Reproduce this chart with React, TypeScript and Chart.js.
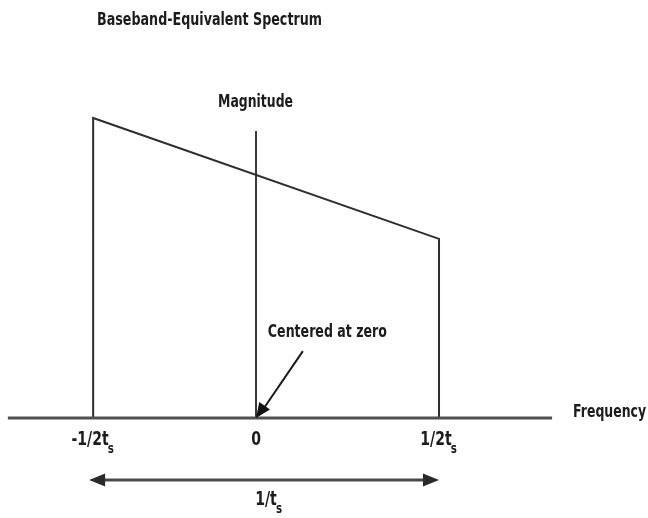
import React, { useEffect, useRef } from "react";
import { Chart, registerables } from "chart.js";

Chart.register(...registerables);

// ---- data ----
const titleText = "Baseband-Equivalent Spectrum";
const yAxisLabel = "Magnitude";
const xAxisLabel = "Frequency";
const calloutText = "Centered at zero";

// frequency positions of the band edges (left edge, right edge)
const bandEdgesX = [-0.445, 0.5];
// magnitude at those edges
const bandEdgesMag = [1.0, 0.597];
// top of the magnitude axis
const magAxisTop = 0.957;
// extent of the frequency axis line
const freqAxisExtent = [-0.678, 0.809];
// tick positions and labels [main, subscript]
const tickValues = [-0.445, 0, 0.5];
const tickLabels: [string, string][] = [
  ["-1/2t", "s"],
  ["0", ""],
  ["1/2t", "s"],
];
// span arrow (1/t_s)
const spanArrowX = [-0.456, 0.5];
const spanArrowY = -0.207;
const spanLabel: [string, string] = ["1/t", "s"];
// callout arrow from label to zero
const calloutFrom = { x: 0.128, y: 0.223 };
const calloutTo = { x: 0.0, y: 0.0 };

const FONT = '"DejaVu Sans Condensed", "DejaVu Sans", sans-serif';

function drawArrowHead(ctx: CanvasRenderingContext2D, fx: number, fy: number, tx: number, ty: number, len: number, half: number, color: string) {
  const a = Math.atan2(ty - fy, tx - fx);
  ctx.save();
  ctx.fillStyle = color;
  ctx.beginPath();
  ctx.moveTo(tx, ty);
  ctx.lineTo(tx - len * Math.cos(a) + half * Math.sin(a), ty - len * Math.sin(a) - half * Math.cos(a));
  ctx.lineTo(tx - len * Math.cos(a) - half * Math.sin(a), ty - len * Math.sin(a) + half * Math.cos(a));
  ctx.closePath();
  ctx.fill();
  ctx.restore();
}

// draws text squeezed horizontally to a given width (condensed look), left aligned at x
function fitText(ctx: CanvasRenderingContext2D, text: string, x: number, y: number, width: number, size: number) {
  ctx.save();
  ctx.font = `bold ${size}px ${FONT}`;
  ctx.textAlign = "left";
  ctx.textBaseline = "middle";
  const w = ctx.measureText(text).width;
  ctx.translate(x, y);
  ctx.scale(width / w, 1);
  ctx.fillText(text, 0, 0);
  ctx.restore();
}

function drawSubLabel(ctx: CanvasRenderingContext2D, main: string, sub: string, cx: number, cy: number, size: number, squeeze: number) {
  ctx.save();
  ctx.textBaseline = "middle";
  ctx.textAlign = "left";
  ctx.font = `bold ${size}px ${FONT}`;
  const wMain = ctx.measureText(main).width;
  ctx.font = `bold ${Math.round(size * 0.72)}px ${FONT}`;
  const wSub = sub ? ctx.measureText(sub).width : 0;
  const total = (wMain + wSub) * squeeze;
  ctx.translate(cx - total / 2, cy);
  ctx.scale(squeeze, 1);
  ctx.font = `bold ${size}px ${FONT}`;
  ctx.fillText(main, 0, 0);
  if (sub) {
    ctx.font = `bold ${Math.round(size * 0.72)}px ${FONT}`;
    ctx.fillText(sub, wMain - 1, size * 0.5);
  }
  ctx.restore();
}

const annotations = {
  id: "diagramText",
  afterDatasetsDraw(chart: any) {
    const { ctx, scales } = chart;
    const xs = scales.x;
    const ys = scales.y;
    const px = (v: number) => xs.getPixelForValue(v);
    const py = (v: number) => ys.getPixelForValue(v);
    const ink = "#1c1c1c";

    // arrowheads of span arrow
    const sy = py(spanArrowY);
    drawArrowHead(ctx, px(spanArrowX[1]), sy, px(spanArrowX[0]), sy, 16, 6.5, "#2a2a2a");
    drawArrowHead(ctx, px(spanArrowX[0]), sy, px(spanArrowX[1]), sy, 16, 6.5, "#2a2a2a");
    // arrowhead of callout
    drawArrowHead(ctx, px(calloutFrom.x), py(calloutFrom.y), px(calloutTo.x), py(calloutTo.y), 15, 6.5, "#111");

    ctx.save();
    ctx.fillStyle = ink;
    // title
    fitText(ctx, titleText, 97, 21, 225, 17);
    // magnitude label
    fitText(ctx, yAxisLabel, px(0) - 38, py(magAxisTop) - 28, 75, 17);
    // frequency label
    fitText(ctx, xAxisLabel, px(freqAxisExtent[1]) + 21, py(0) - 5, 73, 17);
    // callout
    fitText(ctx, calloutText, px(calloutFrom.x) - 35, py(calloutFrom.y) - 19, 119, 17);

    // tick labels
    tickValues.forEach((v, i) => {
      drawSubLabel(ctx, tickLabels[i][0], tickLabels[i][1], px(v), py(0) + 22, 19, 0.82);
    });
    // span label
    drawSubLabel(ctx, spanLabel[0], spanLabel[1], (px(spanArrowX[0]) + px(spanArrowX[1])) / 2 + 5, sy + 20, 19, 0.82);
    ctx.restore();
  },
};

export default function App() {
  const ref = useRef<HTMLCanvasElement>(null);
  useEffect(() => {
    if (!ref.current) return;
    const lineDs = (data: { x: number; y: number }[], color: string, width: number) => ({
      data,
      borderColor: color,
      borderWidth: width,
      pointRadius: 0,
      showLine: true,
      fill: false,
      tension: 0,
      borderJoinStyle: "miter" as const,
    });
    const chart = new Chart(ref.current, {
      type: "scatter",
      data: {
        datasets: [
          lineDs(
            [
              { x: freqAxisExtent[0], y: 0 },
              { x: freqAxisExtent[1], y: 0 },
            ],
            "#505050",
            3
          ),
          lineDs(
            [
              { x: bandEdgesX[0], y: 0 },
              { x: bandEdgesX[0], y: bandEdgesMag[0] },
              { x: bandEdgesX[1], y: bandEdgesMag[1] },
              { x: bandEdgesX[1], y: 0 },
            ],
            "#2e2e2e",
            2
          ),
          lineDs(
            [
              { x: 0, y: 0 },
              { x: 0, y: magAxisTop },
            ],
            "#3a3a3a",
            2
          ),
          lineDs(
            [
              { x: spanArrowX[0] + 0.03, y: spanArrowY },
              { x: spanArrowX[1] - 0.03, y: spanArrowY },
            ],
            "#4a4a4a",
            3
          ),
          lineDs(
            [
              { x: calloutFrom.x, y: calloutFrom.y },
              { x: calloutTo.x + 0.02, y: calloutTo.y + 0.03 },
            ],
            "#1a1a1a",
            2
          ),
        ],
      },
      options: {
        animation: false,
        responsive: false,
        layout: { padding: 0 },
        plugins: { legend: { display: false }, tooltip: { enabled: false }, title: { display: false } },
        scales: {
          x: { type: "linear", min: -0.6995, max: 1.071, display: false },
          y: { type: "linear", min: -0.3333, max: 1.3933, display: false },
        },
      },
      plugins: [annotations],
    });
    return () => chart.destroy();
  }, []);
  return (
    <div style={{ position: "fixed", left: 0, top: 0, width: 648, height: 518, background: "#fff" }}>
      <canvas ref={ref} width={648} height={518} style={{ display: "block" }} />
    </div>
  );
}
